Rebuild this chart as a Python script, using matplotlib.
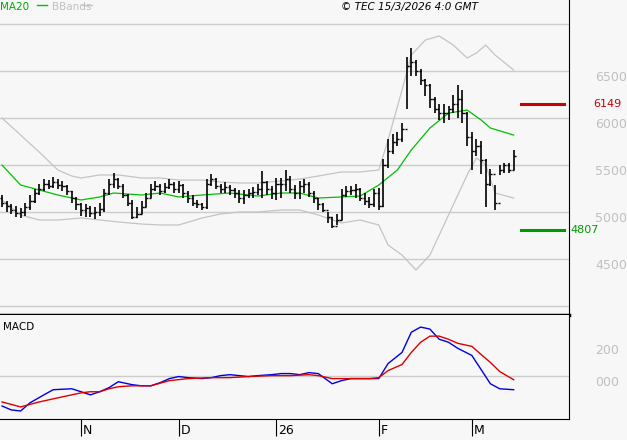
import matplotlib.pyplot as plt
import numpy as np

# ---- data ----
closes = [5100,5060,5020,4990,5000, 5050,5120,5200,5250,5300,5280,5320,5290,
          5280,5220,5150,5080, 5020,5040,4990,5000,5030, 5200,5300,5350,5280,5180,
          5100,4950,4980,5050,5150, 5250,5280,5220,5270,5300,5250,5290,5200,
          5150,5100,5080,5050, 5300,5350,5280,5250,5270,5230,5200,5150,
          5180,5200,5210,5250,5320,5250,5200,5300, 5300,5350,5250,5200,5280,
          5300,5200,5150,5080,5020, 4950,4850,4920, 5180,5220,5230,5250,5150,
          5120,5080,5200,5060,5500, 5650,5750,5780,5880, 6550,6600,6500,
          6400,6350,6200,6100,6050, 6050,6100,6150,6200,6050,
          5800,5650,5700,5550,5300, 5400,5100,5450,5500,5450,5600]
opens = [5150,5100,5060,5020,4990, 5000,5050,5120,5200,5250,5300,5280,5320,
         5290,5280,5220,5150, 5080,5020,5040,4990,5000, 5030,5200,5300,5350,5280,
         5180,5100,4950,4980,5050, 5150,5250,5280,5220,5270,5300,5250,5290,
         5200,5150,5100,5080, 5050,5300,5350,5280,5250,5270,5230,5200,
         5150,5180,5200,5210,5250,5320,5250,5200, 5300,5300,5350,5250,5200,
         5280,5300,5200,5150,5080, 5020,4950,4850, 4920,5180,5220,5230,5250,
         5150,5120,5080,5200,5060, 5500,5650,5750,5780, 5880,6550,6600,
         6500,6400,6350,6200,6100, 6050,6050,6100,6150,6200,
         6050,5800,5650,5700,5550, 5300,5400,5100,5450,5500,5450]
highs = [5180,5120,5080,5060,5040, 5100,5180,5250,5300,5350,5340,5370,5350,
         5330,5290,5220,5160, 5100,5080,5060,5050,5100, 5250,5350,5420,5360,5300,
         5190,5130,5050,5120,5200, 5300,5330,5300,5310,5350,5320,5330,5300,
         5220,5180,5130,5100, 5350,5400,5360,5300,5320,5290,5260,5230,
         5230,5250,5270,5300,5440,5330,5280,5360, 5360,5450,5380,5290,5330,
         5350,5320,5220,5150,5100, 5000,4950,4980, 5250,5280,5280,5300,5260,
         5200,5160,5250,5260,5560, 5780,5830,5850,5950, 6650,6750,6620,
         6520,6420,6360,6220,6150, 6150,6130,6250,6350,6300,
         6060,5850,5780,5760,5560, 5460,5290,5500,5520,5520,5660]
lows = [5050,5000,4980,4950,4940, 4960,5020,5100,5180,5220,5240,5260,5250,
        5220,5180,5100,5020, 4960,4950,4950,4930,4960, 5000,5180,5260,5240,5150,
        5060,4930,4940,4980,5050, 5150,5220,5180,5200,5240,5200,5200,5150,
        5100,5060,5040,5020, 5030,5280,5240,5200,5200,5180,5150,5100,
        5090,5150,5150,5180,5150,5180,5140,5130, 5150,5220,5200,5140,5140,
        5200,5160,5100,5020,5000, 4880,4830,4860, 4910,5160,5180,5150,5120,
        5070,5040,5050,5020,5050, 5470,5620,5700,5750, 6100,6450,6450,
        6350,6230,6110,6050,5980, 5950,5980,6050,6000,5950,
        5700,5450,5600,5400,5050, 5280,5020,5390,5420,5410,5450]

ma_idx = [0,4,8,12,17,21,24,30,34,38,43,49,55,60,64,68,73,77,81,85,88,92,96,100,103,105,110]
ma20 = [5500,5287,5234,5181,5128,5160,5202,5181,5202,5160,5181,5202,5170,5202,5202,5149,
        5160,5170,5287,5447,5660,5894,6053,6085,5979,5894,5819]
up_idx = [0,4,8,12,15,17,21,25,30,34,38,43,47,51,55,60,64,68,73,77,81,83,86,88,91,94,97,100,102,104,106,110]
bb_upper = [6000,5819,5638,5447,5383,5362,5394,5394,5362,5362,5340,5340,5319,5309,5309,5330,
            5351,5383,5426,5426,5447,5766,6298,6670,6830,6873,6777,6639,6692,6777,6671,6511]
lo_idx = [0,4,8,12,17,21,25,30,34,38,43,47,51,55,60,64,68,73,77,81,83,86,88,89,92,96,100,102,104,106,110]
bb_lower = [5128,4968,4915,4915,4936,4915,4894,4872,4862,4862,4936,4979,5000,5000,5021,5021,
            4968,4883,4915,4862,4649,4542,4436,4383,4542,4968,5394,5575,5500,5202,5149]

macd_idx = [0,2,4,6,9,11,15,17,19,21,23,25,28,30,32,34,36,38,40,43,45,47,49,51,53,55,58,60,
            62,64,66,68,71,73,75,77,79,81,83,86,88,90,92,94,96,98,101,103,105,107,110]
macd = [-194,-219,-226,-174,-123,-90,-84,-103,-123,-103,-77,-39,-58,-65,-65,-45,-19,-6,-13,-19,
        -13,0,6,0,-6,0,6,13,13,6,19,13,-52,-32,-19,-19,-19,-19,77,148,277,310,297,232,213,174,
        129,39,-52,-84,-90]
sig_idx = [0,4,8,12,17,19,21,23,25,28,32,36,40,45,49,53,58,62,66,68,71,75,79,81,83,86,88,90,
           92,94,96,98,101,103,105,107,110]
signal = [-168,-200,-168,-142,-110,-103,-103,-84,-71,-65,-65,-32,-19,-13,-13,-6,0,0,6,0,-19,-19,
          -19,-13,32,71,148,213,252,252,232,206,187,135,84,26,-26]

price_ticks = [4500, 5000, 5500, 6000, 6500]
macd_ticks = [0, 200]
macd_tick_labels = ['000', '200']
month_pos = [17, 38, 59, 81, 101]
month_labels = ['N', 'D', '26', 'F', 'M']
resist, support = 6149, 4807

# ---- plot ----
W, H = 627, 440
bg = '#f7f7f7'
fig = plt.figure(figsize=(W/100, H/100), dpi=100, facecolor=bg)
xlim = (-0.43, 121.9)
ax = fig.add_axes([0, 1-315/H, 569/W, 315/H], facecolor=bg)
ax2 = fig.add_axes([0, 1-419/H, 569/W, 104/H], facecolor=bg)

grid_c = '#cccccc'
for p in [4000, 4500, 5000, 5500, 6000, 6500, 7000]:
    ax.axhline(p, color=grid_c, lw=1, zorder=0)
ax.plot(up_idx, bb_upper, color='#c4c4c4', lw=0.9)
ax.plot(lo_idx, bb_lower, color='#c4c4c4', lw=0.9)
ax.plot(ma_idx, ma20, color='#00c000', lw=0.9)
idx = np.arange(len(closes))
ax.vlines(idx, lows, highs, color='black', lw=1.2)
ax.hlines(opens, idx-0.45, idx, color='black', lw=1)
ax.hlines(closes, idx, idx+0.45, color='black', lw=1)
ax.plot([111.5, 120.8], [resist]*2, color='#cc0000', lw=2.2, clip_on=False)
ax.plot([111.5, 120.8], [support]*2, color='#009900', lw=2.2, clip_on=False)
ax.set_xlim(*xlim)
ax.set_ylim(3904, 7256)
ax.set_xticks([]); ax.set_yticks([])
for s in ax.spines.values():
    s.set_visible(False)
ax.spines['right'].set_visible(True)
ax.spines['bottom'].set_visible(True); ax.spines['bottom'].set_linewidth(2.5)
for p in price_ticks:
    ax.text(1.046, p, str(p), transform=ax.get_yaxis_transform(), color='#c0c0c0',
            fontsize=9, va='top', ha='left')
ax.text(1.042, resist, str(resist), transform=ax.get_yaxis_transform(), color='#cc0000',
        fontsize=8, va='center', ha='left')
ax.text(1.002, support, str(support), transform=ax.get_yaxis_transform(), color='#009900',
        fontsize=8, va='center', ha='left')

ax2.axhline(0, color=grid_c, lw=1, zorder=0)
ax2.plot(macd_idx, macd, color='#0000dd', lw=1)
ax2.plot(sig_idx, signal, color='#dd0000', lw=1)
ax2.set_xlim(*xlim)
ax2.set_ylim(-277, 387)
ax2.set_yticks([])
for s in ['top', 'left']:
    ax2.spines[s].set_visible(False)
ax2.set_xticks(month_pos)
ax2.set_xticklabels([])
ax2.tick_params(axis='x', length=12, direction='out')
for m, l in zip(month_pos, month_labels):
    ax2.text(m + 0.4, -0.05, l, transform=ax2.get_xaxis_transform(), fontsize=9,
             ha='left', va='top')
for t, l in zip(macd_ticks, macd_tick_labels):
    ax2.text(1.046, t, l, transform=ax2.get_yaxis_transform(), color='#c0c0c0',
             fontsize=9, va='top', ha='left')
ax2.text(0.005, 0.93, 'MACD', transform=ax2.transAxes, fontsize=7.5, va='top')

fig.text(0.0, 1-7/H, 'MA20', color='#00aa00', fontsize=7.5, va='center')
fig.add_artist(plt.Line2D([37/W, 47/W], [1-5/H]*2, color='#00c000', lw=1))
fig.text(52/W, 1-7/H, 'BBands', color='#c0c0c0', fontsize=7.5, va='center')
fig.add_artist(plt.Line2D([82/W, 92/W], [1-5/H]*2, color='#c4c4c4', lw=1))
fig.text(478/W, 1-7/H, '© TEC 15/3/2026 4:0 GMT', fontsize=7.5, style='italic',
         va='center', ha='right')

fig.savefig('out.png', dpi=100, facecolor=bg)
